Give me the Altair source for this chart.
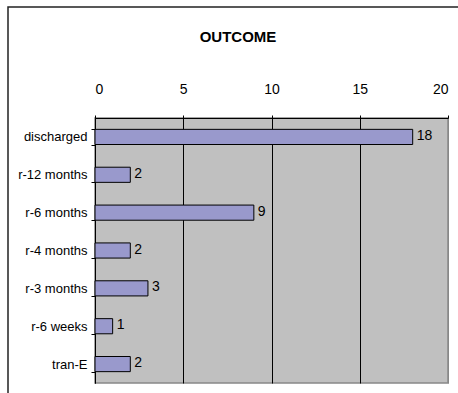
import altair as alt
import pandas as pd

chart_title = "OUTCOME"
categories = ["discharged", "r-12 months", "r-6 months", "r-4 months",
              "r-3 months", "r-6 weeks", "tran-E"]
counts = [18, 2, 9, 2, 3, 1, 2]
tick_values = [0, 5, 10, 15, 20]

FONT = "Liberation Sans, Arial, sans-serif"

df = pd.DataFrame({"outcome": categories, "count": counts})

x_enc = alt.X(
    "count:Q",
    scale=alt.Scale(domain=[0, 20], nice=False),
    axis=alt.Axis(
        orient="top", values=tick_values, title=None,
        tickSize=3, tickColor="black", domainColor="black",
        labelFontSize=14, labelFont=FONT, labelColor="black", labelPadding=19,
        grid=True,
        gridColor={"condition": {"test": "datum.value === 20", "value": "#888888"},
                   "value": "black"},
        gridOpacity=1,
    ),
)
y_enc = alt.Y(
    "outcome:N", sort=None,
    scale=alt.Scale(paddingInner=0.6, paddingOuter=0.3),
    axis=alt.Axis(
        title=None, tickBand="extent", tickSize=4, tickColor="black",
        domainColor="black", labelFontSize=13, labelFont=FONT,
        labelColor="black", labelPadding=4, grid=False,
    ),
)

base = alt.Chart(df)

bars = base.mark_bar(fill="#9999CC", stroke="black", strokeWidth=1).encode(
    x=x_enc, y=y_enc
)

labels = base.mark_text(
    align="left", baseline="middle", dx=4, dy=-1,
    font=FONT, fontSize=14, color="black"
).encode(x="count:Q", y=alt.Y("outcome:N", sort=None), text="count:Q")

# outer chart-area border (left and top edges visible)
frame = alt.Chart(alt.Data(values=[{}])).mark_rect(
    fill=None, stroke="#222222", strokeWidth=1.5, clip=False
).encode(
    x=alt.value(-87), x2=alt.value(400),
    y=alt.value(-111), y2=alt.value(320),
)

# chart heading, centred over the chart area
heading = alt.Chart(alt.Data(values=[{"t": chart_title}])).mark_text(
    font=FONT, fontSize=15, fontWeight="bold", color="black",
    align="center", baseline="alphabetic", clip=False,
).encode(text="t:N", x=alt.value(143), y=alt.value(-76))

chart = alt.layer(frame, heading, bars, labels).properties(
    width=353, height=265,
    autosize="none",
    padding={"left": 95, "top": 118, "right": 10, "bottom": 10},
    background="white",
).configure_view(
    fill="#C0C0C0", stroke="#888888", strokeWidth=1.5
)

chart.save("out.html", embed_options={"renderer": "svg", "actions": False})
